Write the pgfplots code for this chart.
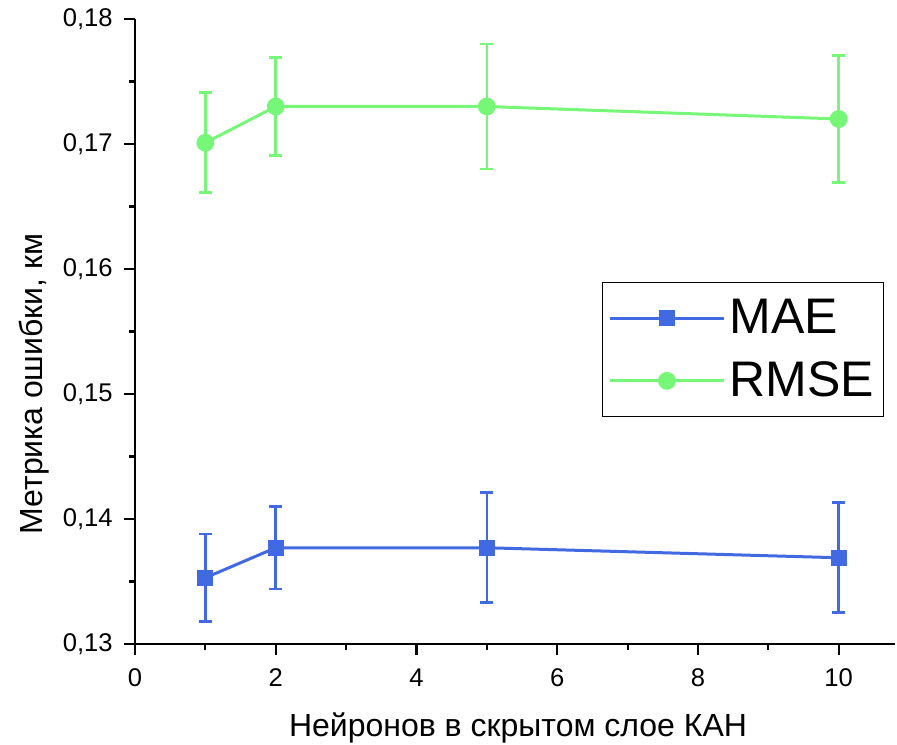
\documentclass[border=0pt]{standalone}
\usepackage{pgfplots}
\pgfplotsset{compat=1.18}
\usepackage{fontspec}
\setmainfont{Liberation Sans}
\definecolor{maeblue}{RGB}{65,105,225}
\definecolor{rmsegreen}{RGB}{119,247,119}
\begin{document}
\begin{tikzpicture}
\useasboundingbox (-67.5pt,-50pt) rectangle (381pt,322pt);
\begin{axis}[
  at={(0pt,0pt)}, anchor=south west,
  scale only axis, width=380pt, height=312.5pt,
  xmin=0, xmax=10.8, ymin=0.13, ymax=0.18,
  axis x line*=bottom, axis y line*=left,
  axis line style={line width=1.1pt, black},
  xtick={0,2,4,6,8,10}, ytick={0.13,0.14,0.15,0.16,0.17,0.18},
  minor x tick num=1, minor y tick num=1,
  tick align=outside,
  major tick length=5.5pt, minor tick length=3pt,
  every tick/.style={line width=1.1pt, black},
  /pgf/number format/assume math mode=true,
  yticklabel style={/pgf/number format/fixed, /pgf/number format/fixed zerofill,
    /pgf/number format/precision=2, /pgf/number format/use comma,
    anchor=east, inner sep=0pt, xshift=-5.5pt},
  xticklabel style={anchor=north, inner sep=0pt, yshift=-6.5pt},
  ticklabel style={font=\fontsize{12.8}{15}\selectfont},
  xlabel={Нейронов в скрытом слое КАН},
  ylabel={Метрика ошибки, км},
  xlabel style={at={(axis description cs:0.504,0)}, anchor=base, inner sep=0pt, yshift=-46pt},
  ylabel style={at={(axis description cs:0,0.416)}, anchor=base, inner sep=0pt, yshift=46pt},
  label style={font=\fontsize{16}{19}\selectfont},
  legend style={at={(axis description cs:0.6145,0.579)}, anchor=north west, draw=black, thin,
    font=\fontsize{25}{30}\selectfont, legend cell align=left,
    inner xsep=3pt, inner ysep=6.5pt, row sep=8.5pt,
    /tikz/every even column/.append style={column sep=10.5pt}},
  legend image code/.code={\draw[mark repeat=2,mark phase=2] plot coordinates {(0pt,0pt) (28.5pt,0pt) (57pt,0pt)};},
  error bars/error bar style={line width=1.3pt},
  error bars/error mark options={line width=1.3pt, mark size=3.3pt, rotate=90},
]
\addplot[color=maeblue, line width=1.5pt, mark=square*, mark size=3.3pt,
  error bars/.cd, y dir=both, y explicit]
  coordinates {
  (1,0.1353) +- (0,0.0035)
  (2,0.1377) +- (0,0.0033)
  (5,0.1377) +- (0,0.0044)
  (10,0.1369) +- (0,0.0044)
  };
\addlegendentry{MAE}
\addplot[color=rmsegreen, line width=1.5pt, mark=*, mark size=3.7pt,
  error bars/.cd, y dir=both, y explicit]
  coordinates {
  (1,0.1701) +- (0,0.0040)
  (2,0.1730) +- (0,0.0039)
  (5,0.1730) +- (0,0.0050)
  (10,0.1720) +- (0,0.0051)
  };
\addlegendentry{RMSE}
\end{axis}
\end{tikzpicture}
\end{document}
